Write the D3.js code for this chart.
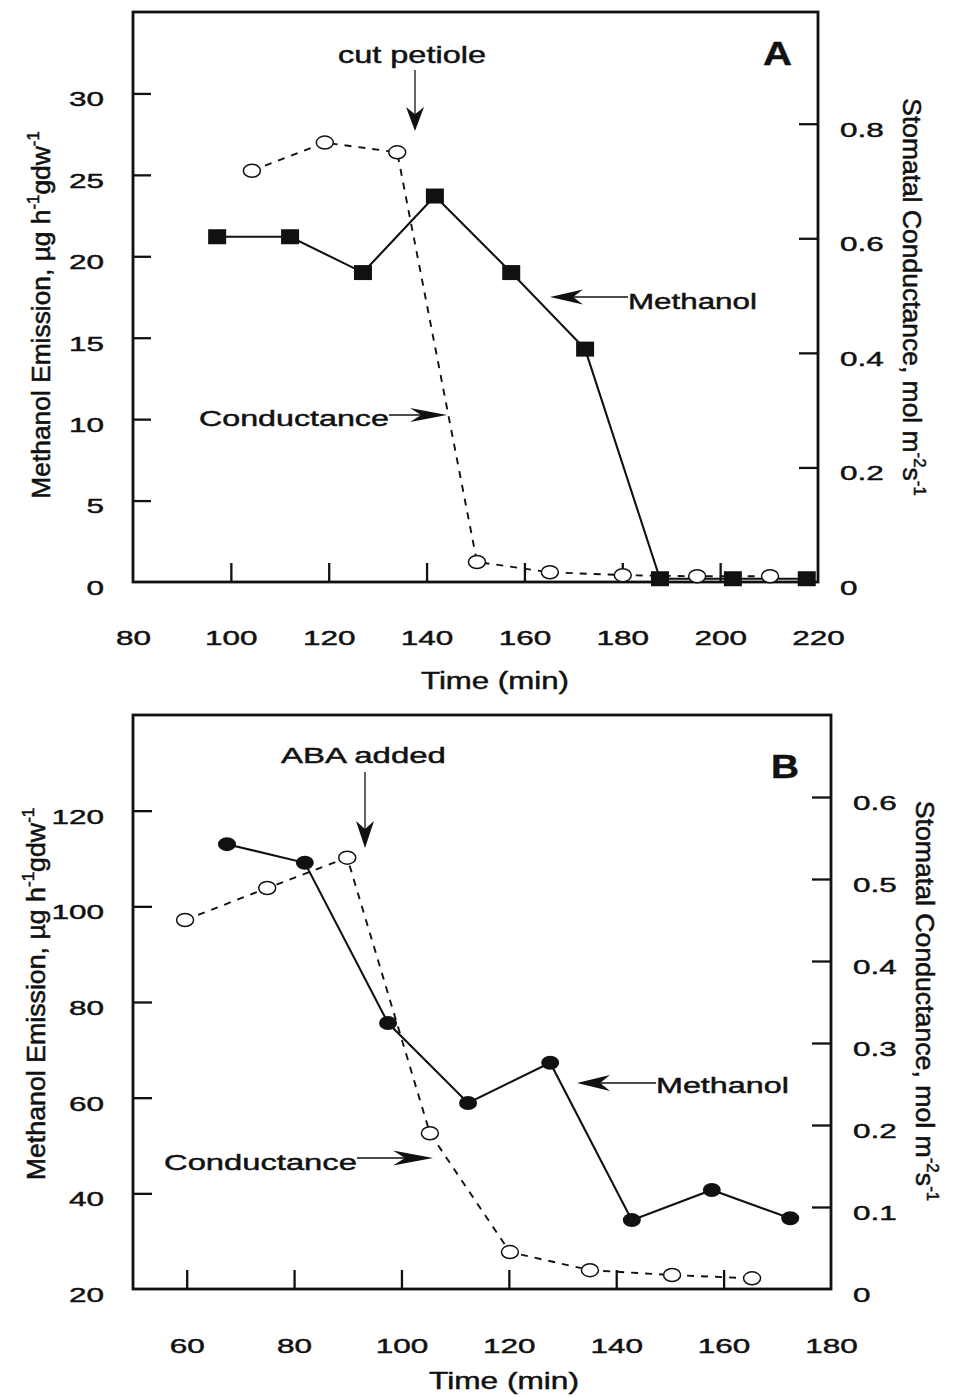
<!DOCTYPE html>
<html>
<head>
<meta charset="utf-8">
<script src="https://cdn.jsdelivr.net/npm/d3@7"></script>
<style>
  html, body { margin: 0; padding: 0; background: #fff; }
  svg { display: block; }
  text { font-family: "Liberation Sans", Arial, Helvetica, sans-serif; fill: #111; stroke: #111; stroke-width: 0.45px; }
</style>
</head>
<body>
<script>
// ---------------- data ----------------
// Panel A
const timeA_methanol = [97.2, 112.1, 127.0, 141.7, 157.3, 172.4, 187.7, 202.6, 217.7];
const methanolA      = [21.2, 21.2, 19.0, 23.7, 19.0, 14.3, 0.2, 0.2, 0.2];
const timeA_cond     = [104.3, 119.2, 134.0, 150.3, 165.2, 180.1, 195.3, 210.2];
const conductanceA   = [0.718, 0.767, 0.750, 0.035, 0.017, 0.012, 0.010, 0.010];
// Panel B
const timeB_methanol = [67.5, 82.0, 97.5, 112.4, 127.7, 142.9, 157.8, 172.4];
const methanolB      = [113.0, 109.1, 75.6, 58.9, 67.3, 34.4, 40.7, 34.8];
const timeB_cond     = [59.7, 75.0, 89.9, 105.3, 120.2, 135.1, 150.4, 165.3];
const conductanceB   = [0.450, 0.489, 0.526, 0.190, 0.045, 0.023, 0.017, 0.013];
// ticks
const xTicksA      = [80, 100, 120, 140, 160, 180, 200, 220];
const yLeftTicksA  = [0, 5, 10, 15, 20, 25, 30];
const yRightTicksA = [0, 0.2, 0.4, 0.6, 0.8];
const xTicksB      = [60, 80, 100, 120, 140, 160, 180];
const yLeftTicksB  = [20, 40, 60, 80, 100, 120];
const yRightTicksB = [0, 0.1, 0.2, 0.3, 0.4, 0.5, 0.6];
// texts
const xTitle = "Time (min)";
const leftTitleParts  = [["Methanol Emission, \u00b5g h", false], ["-1", true], ["gdw", false], ["-1", true]];
const rightTitleParts = [["Stomatal Conductance, mol m", false], ["-2", true], ["s", false], ["-1", true]];

// ---------------- drawing ----------------
const W = 954, H = 1397;
const svg = d3.select("body").append("svg").attr("width", W).attr("height", H);
const TICK_SX = 1.5;

function fmtCond(d) { return d === 0 ? "0" : d.toFixed(1); }

function htext(g, s, x0, x1, yBase, size, weight) {
  const t = g.append("text").text(s)
    .style("font-size", size + "px").style("font-weight", weight || "normal")
    .attr("text-anchor", "start");
  const w = t.node().getBBox().width;
  const k = (x1 - x0) / w;
  t.attr("transform", `translate(${x0},${yBase}) scale(${k},1)`);
  return t;
}

function vtitle(g, parts, bx, cy, rot, len, thick, size) {
  const t = g.append("text").attr("text-anchor", "middle").style("font-size", size + "px");
  const supSize = Math.round(size * 0.62);
  const shift = Math.round(size * 0.42);
  let prevSup = false;
  parts.forEach(([s, sup]) => {
    const ts = t.append("tspan").text(s);
    if (sup) { ts.style("font-size", supSize + "px").attr("dy", -shift); prevSup = true; }
    else if (prevSup) { ts.attr("dy", shift); prevSup = false; }
  });
  const w = t.node().getBBox().width;
  const a = len / w;
  t.attr("transform", `translate(${bx},${cy}) rotate(${rot}) scale(${a},${thick})`);
}

function arrow(g, x1, y1, x2, y2, L, Wd) {
  const ang = Math.atan2(y2 - y1, x2 - x1);
  const bx = x2 - Math.cos(ang) * L * 0.7, by = y2 - Math.sin(ang) * L * 0.7;
  g.append("line").attr("x1", x1).attr("y1", y1).attr("x2", bx).attr("y2", by)
    .attr("stroke", "#111").attr("stroke-width", 1.3);
  g.append("path")
    .attr("d", `M0,0 L${-L},${-Wd / 2} L${-L * 0.7},0 L${-L},${Wd / 2} Z`)
    .attr("transform", `translate(${x2},${y2}) rotate(${ang * 180 / Math.PI})`)
    .attr("fill", "#111");
}

function panel(cfg) {
  const g = svg.append("g");
  const x = d3.scaleLinear().domain(cfg.xDomain).range([cfg.left, cfg.right]);
  const yL = d3.scaleLinear().domain(cfg.yLDomain).range([cfg.bottom, cfg.top]);
  const yR = d3.scaleLinear().domain(cfg.yRDomain).range([cfg.bottom, cfg.top]);
  const T = cfg.tick;
  const tickFont = "Liberation Sans, Arial, sans-serif";

  // bottom axis
  const gx = g.append("g").attr("transform", `translate(0,${cfg.bottom})`)
    .call(d3.axisBottom(x).tickValues(cfg.xTicks).tickSizeInner(-T).tickSizeOuter(0).tickFormat(d3.format("d")));
  gx.selectAll(".tick line").attr("stroke", "#111").attr("stroke-width", 2.3)
    .attr("display", d => (d <= cfg.xDomain[0] || d >= cfg.xDomain[1]) ? "none" : null);
  gx.selectAll(".tick text").attr("y", 0).attr("dy", 0).attr("fill", "#111")
    .style("font-size", "21px").style("font-family", tickFont)
    .attr("transform", `translate(0,${cfg.xLabelDy}) scale(${TICK_SX},1)`);

  // left axis
  const gl = g.append("g").attr("transform", `translate(${cfg.left},0)`)
    .call(d3.axisLeft(yL).tickValues(cfg.yLTicks).tickSizeInner(-cfg.tickL).tickSizeOuter(0).tickFormat(d3.format("d")));
  gl.selectAll(".tick line").attr("stroke", "#111").attr("stroke-width", 2.3)
    .attr("display", d => d <= cfg.yLDomain[0] ? "none" : null);
  gl.selectAll(".tick text").attr("x", 0).attr("dy", "0.35em").attr("fill", "#111")
    .style("font-size", "21px").style("font-family", tickFont)
    .attr("text-anchor", "end")
    .attr("transform", `translate(${-cfg.yLabelGap},5) scale(${TICK_SX},1)`);

  // right axis
  const gr = g.append("g").attr("transform", `translate(${cfg.right},0)`)
    .call(d3.axisRight(yR).tickValues(cfg.yRTicks).tickSizeInner(-T).tickSizeOuter(0).tickFormat(fmtCond));
  gr.selectAll(".tick line").attr("stroke", "#111").attr("stroke-width", 2.3)
    .attr("display", d => d <= cfg.yRDomain[0] ? "none" : null);
  gr.selectAll(".tick text").attr("x", 0).attr("dy", "0.35em").attr("fill", "#111")
    .style("font-size", "21px").style("font-family", tickFont)
    .attr("text-anchor", "start")
    .attr("transform", `translate(${cfg.yRLabelGap},5) scale(${TICK_SX},1)`);

  g.selectAll(".domain").remove();

  // frame
  g.append("rect").attr("x", cfg.left).attr("y", cfg.top)
    .attr("width", cfg.right - cfg.left).attr("height", cfg.bottom - cfg.top)
    .attr("fill", "none").attr("stroke", "#111").attr("stroke-width", 2.8);

  // series lines
  const condPts = cfg.condT.map((t, i) => [x(t), yR(cfg.cond[i])]);
  const methPts = cfg.methT.map((t, i) => [x(t), yL(cfg.meth[i])]);
  g.append("path").attr("d", d3.line()(condPts)).attr("fill", "none")
    .attr("stroke", "#111").attr("stroke-width", 1.9).attr("stroke-dasharray", "7,7");
  g.append("path").attr("d", d3.line()(methPts)).attr("fill", "none")
    .attr("stroke", "#111").attr("stroke-width", 2.1);

  // open circles
  g.selectAll(".oc").data(condPts).join("ellipse")
    .attr("cx", d => d[0]).attr("cy", d => d[1]).attr("rx", 8.5).attr("ry", 6.5)
    .attr("fill", "#fff").attr("stroke", "#111").attr("stroke-width", 1.5);

  // methanol markers
  if (cfg.marker === "square") {
    g.selectAll(".sq").data(methPts).join("rect")
      .attr("x", d => d[0] - 9).attr("y", d => d[1] - 7.5).attr("width", 18).attr("height", 15)
      .attr("fill", "#111");
  } else {
    g.selectAll(".fc").data(methPts).join("ellipse")
      .attr("cx", d => d[0]).attr("cy", d => d[1]).attr("rx", 9).attr("ry", 7)
      .attr("fill", "#111");
  }
  return g;
}

// Panel A
panel({
  xDomain: [80, 220], yLDomain: [0, 35], yRDomain: [0, 0.995],
  left: 133, right: 818, top: 12, bottom: 582, tick: 19, tickL: 18,
  xTicks: xTicksA, yLTicks: yLeftTicksA, yRTicks: yRightTicksA,
  xLabelDy: 63, yLabelGap: 29, yRLabelGap: 22,
  methT: timeA_methanol, meth: methanolA, condT: timeA_cond, cond: conductanceA,
  marker: "square"
});
// Panel B
panel({
  xDomain: [50, 180], yLDomain: [20, 140], yRDomain: [0, 0.7],
  left: 133, right: 831, top: 715, bottom: 1289, tick: 19, tickL: 19,
  xTicks: xTicksB, yLTicks: yLeftTicksB, yRTicks: yRightTicksB,
  xLabelDy: 64, yLabelGap: 29, yRLabelGap: 22,
  methT: timeB_methanol, meth: methanolB, condT: timeB_cond, cond: conductanceB,
  marker: "circle"
});

// axis titles
htext(svg, xTitle, 421, 569, 689, 23);
htext(svg, xTitle, 429, 579, 1389, 23);
vtitle(svg, leftTitleParts, 50, 315, -90, 368, 1.2, 22);
vtitle(svg, rightTitleParts, 903, 297, 90, 398, 1.2, 22);
vtitle(svg, leftTitleParts, 45, 994, -90, 373, 1.2, 22);
vtitle(svg, rightTitleParts, 916, 1001, 90, 401, 1.2, 22);

// panel letters
htext(svg, "A", 763, 792, 65, 34, "bold");
htext(svg, "B", 771, 799, 778, 34, "bold");

// annotations panel A
htext(svg, "cut petiole", 338, 486, 63, 23);
arrow(svg, 415, 70, 415, 131, 24, 18);
htext(svg, "Methanol", 628, 757, 309, 22);
arrow(svg, 628, 297, 550, 297, 33, 15);
htext(svg, "Conductance", 199, 389, 426, 22);
arrow(svg, 389, 415, 447, 415, 37, 14);

// annotations panel B
htext(svg, "ABA added", 281, 446, 763, 22);
arrow(svg, 365, 772, 365, 848, 27, 18);
htext(svg, "Conductance", 164, 357, 1170, 22);
arrow(svg, 357, 1158, 433, 1158, 40, 15);
htext(svg, "Methanol", 656, 789, 1093, 22);
arrow(svg, 656, 1083, 577, 1083, 33, 16);
</script>
</body>
</html>
